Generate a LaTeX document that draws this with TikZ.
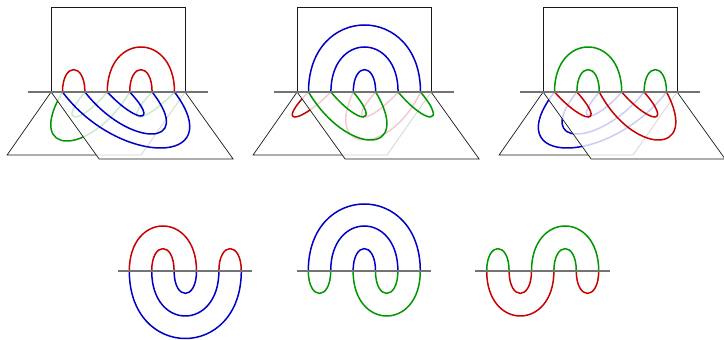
\documentclass[tikz,border=0pt]{standalone}
\definecolor{strandR}{RGB}{200,0,0}
\definecolor{strandG}{RGB}{0,150,0}
\definecolor{strandB}{RGB}{0,0,200}
% i/j/h : arc between spine points i and j, of height h
\newcommand{\arcset}[2]{%
  \foreach \i/\j/\h in {#2} {
    \draw[strand, #1] ({\i*22.4},0) .. controls ({\i*22.4},{\h*4/3}) and ({\j*22.4},{\h*4/3}) .. ({\j*22.4},0);
  }}
% i/j/d/s : the same on a slanted page, depth d, control points moved by s
\newcommand{\pagearcs}[2]{%
  \foreach \i/\j/\d/\s in {#2} {
    \draw[strand, #1] ({\i*22.4},0) .. controls ({\i*22.4+\s},{-\d*4/3}) and ({\j*22.4+\s},{-\d*4/3}) .. ({\j*22.4},0);
  }}
\newcommand{\bookpanel}[7]{%
  \begin{scope}[shift={(#1,248)}]
    % back page
    \draw[page] (11,0) -- (-33,-63) -- (101,-63) -- (145,0);
    \pagearcs{#6}{#7}
    % front page, half transparent
    \fill[white, opacity=0.8] (11,0) -- (59,-67) -- (193,-67) -- (145,0) -- cycle;
    \draw[page] (11,0) -- (59,-67) -- (193,-67) -- (145,0);
    \pagearcs{#4}{#5}
    % upper page
    \draw[page] (11,0) rectangle (145,85);
    \arcset{#2}{#3}
    \draw[spine] (-12,0) -- (168,0);
  \end{scope}}
\newcommand{\flatpanel}[5]{%
  \begin{scope}[shift={(#1,69)}]
    \arcset{#2}{#3}
    \arcset{#4}{#5}
    \draw[spine] (11,0) -- (145.5,0);
  \end{scope}}

\begin{document}
\begin{tikzpicture}[x=1pt, y=1pt,
    strand/.style={line width=1.5pt},
    page/.style={line width=0.7pt, color=black!90},
    spine/.style={line width=1.7pt, color=black!55}]
  \useasboundingbox (0,0) rectangle (724,340);

  % ---- three pages round a spine ---------------------------------------------
  \bookpanel{40.1}{strandR}{1/2/22.4, 3/6/45, 4/5/22.4}
    {strandB}{3/4/24/30, 2/5/42/44, 1/6/56/56}
    {strandG}{1/4/49/-39, 2/3/25/-28, 5/6/25/-32}
  \bookpanel{286.1}{strandB}{1/6/67, 2/5/45, 3/4/22.4}
    {strandG}{1/4/48/38, 2/3/25/28, 5/6/25/28}
    {strandR}{1/2/25/-33, 3/6/48/-30, 4/5/25/-30}
  \bookpanel{532.1}{strandG}{1/4/45, 2/3/22.4, 5/6/22.4}
    {strandR}{1/2/25/30, 3/6/48/34, 4/5/25/29}
    {strandB}{1/6/56/-58, 2/5/42/-45, 3/4/24/-28}

  % ---- the same arcs, flattened -----------------------------------------------
  \flatpanel{106.9}{strandR}{1/4/45, 2/3/22.4, 5/6/22.4}
    {strandB}{3/4/-22.4, 2/5/-45, 1/6/-67.5}
  \flatpanel{285.9}{strandB}{1/6/67, 2/5/45, 3/4/22.4}
    {strandG}{1/2/-22.4, 3/6/-45, 4/5/-22.4}
  \flatpanel{464.3}{strandG}{1/2/22.4, 3/6/45, 4/5/22.4}
    {strandR}{1/4/-45, 2/3/-22.4, 5/6/-22.4}
\end{tikzpicture}
\end{document}
